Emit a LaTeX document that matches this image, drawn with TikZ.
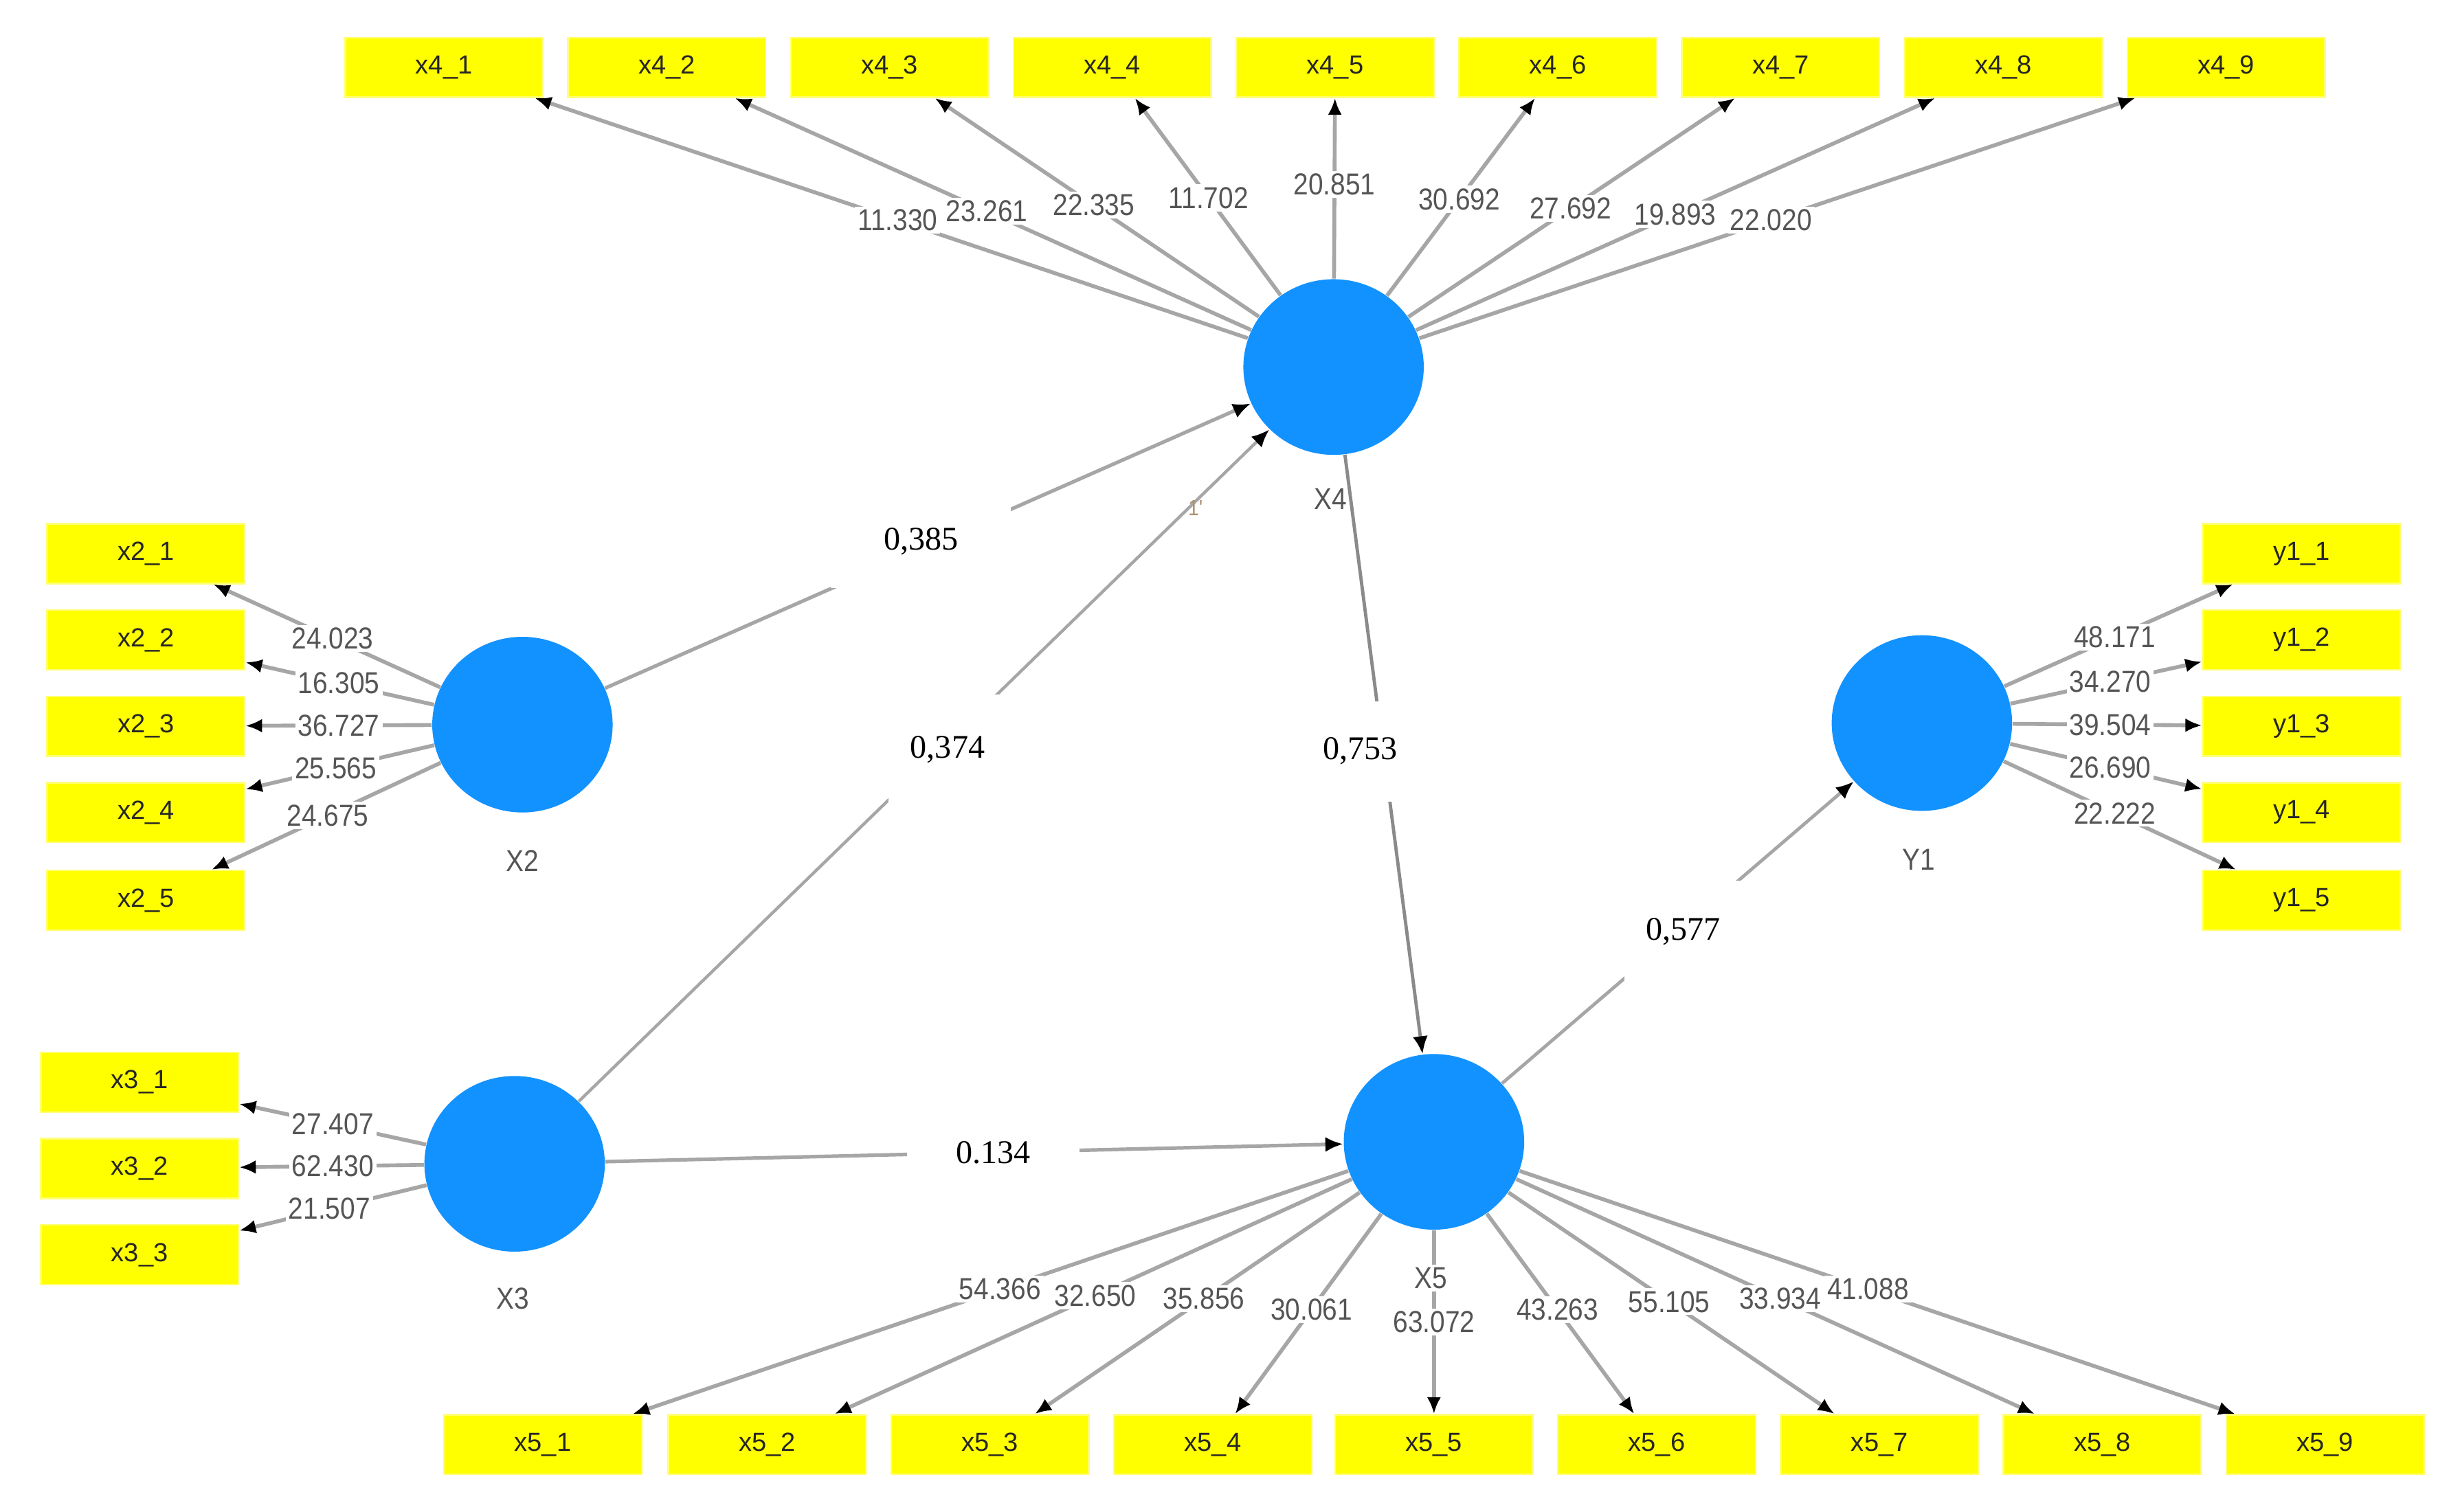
\documentclass[tikz,border=0pt]{standalone}
\usepackage{fontspec}
\setmainfont{Liberation Sans}
\newfontfamily\serifnum{Liberation Serif}
\newfontfamily\narrowsans[FakeStretch=0.88]{Liberation Sans}
\usetikzlibrary{shapes.geometric,arrows.meta,calc}
\definecolor{ylw}{HTML}{FFFF00}
\definecolor{blu}{HTML}{1292FF}
\definecolor{linegray}{HTML}{A6A6A6}
\definecolor{darkline}{HTML}{8A8A8A}
\definecolor{txtgray}{HTML}{555555}
\definecolor{artif}{HTML}{B09070}
\begin{document}
\begin{tikzpicture}[x=0.02cm,y=-0.02cm,
  ind/.style={rectangle, fill=ylw, draw=ylw!55!white, line width=0.6pt, minimum width=2.52cm, minimum height=0.76cm, inner sep=0pt, font=\fontsize{9.5}{10}\selectfont, text=black!85},
  lat/.style={ellipse, fill=blu, minimum width=2.3cm, minimum height=2.24cm, inner sep=0pt},
  latlab/.style={fill=white, inner sep=1pt, font=\narrowsans\fontsize{11}{12}\selectfont, text=txtgray},
  load/.style={draw=linegray, line width=1.4pt, -{Latex[color=black,length=6pt,width=5pt]}},
  lval/.style={fill=white, inner sep=1pt, font=\narrowsans\fontsize{11}{12}\selectfont, text=txtgray},
  pathln/.style={draw=linegray, line width=1.3pt, -{Latex[color=black,length=6.5pt,width=5.5pt]}},
  pval/.style={fill=white, inner sep=0pt, font=\serifnum\fontsize{12}{14}\selectfont, text=black},
]
\fill[white] (0,0) rectangle (1568,964);
\useasboundingbox (0,0) rectangle (1568,964);

% latent variables
\node[lat] (X4) at (850,234) {};
\node[lat] (X2) at (333,462) {};
\node[lat] (X3) at (328,742) {};
\node[lat] (X5) at (914,728) {};
\node[lat] (Y1) at (1225,461) {};

% indicators
\foreach \i/\x in {1/283,2/425,3/567,4/709,5/851,6/993,7/1135,8/1277,9/1419}
  \node[ind] (x4\i) at (\x,43) {x4\_\i};
\foreach \i/\y in {1/353,2/408,3/463,4/518,5/574}
  \node[ind] (x2\i) at (93,\y) {x2\_\i};
\foreach \i/\y in {1/690,2/745,3/800}
  \node[ind] (x3\i) at (89,\y) {x3\_\i};
\foreach \i/\y in {1/353,2/408,3/463,4/518,5/574}
  \node[ind] (y1\i) at (1467,\y) {y1\_\i};
\foreach \i/\x in {1/346,2/489,3/631,4/773,5/914,6/1056,7/1198,8/1340,9/1482}
  \node[ind] (x5\i) at (\x,921) {x5\_\i};

% latent labels (drawn below the structural lines)
\node[latlab] (lX2) at (333,549) {X2};
\node[latlab] (lX3) at (327,828) {X3};
\node[latlab] (lY1) at (1223,548) {Y1};
\node[latlab, fill=none] (lX4) at (848,318) {X4};

% loading arrows
\foreach \i in {1,...,9} \draw[load] (X4) -- (x4\i);
\foreach \i in {1,...,5} \draw[load] (X2) -- (x2\i);
\foreach \i in {1,...,3} \draw[load] (X3) -- (x3\i);
\foreach \i in {1,...,5} \draw[load] (Y1) -- (y1\i);
\foreach \i in {1,...,9} \draw[load] (X5) -- (x5\i);

% structural paths
\draw[pathln] (X2) -- (X4);
\draw[pathln, line width=1.1pt] (X3) -- (X4);
\draw[pathln, draw=darkline, line width=1.2pt] (X4) -- (X5);
\draw[pathln] (X3) -- (X5);
\draw[pathln, line width=1.2pt] (X5) -- (Y1);

% loading values
\foreach \i/\t/\v in {1/0.49/11.330,2/0.52/23.261,3/0.54/22.335,4/0.565/11.702,5/0.61/20.851,6/0.56/30.692,7/0.53/27.692,8/0.51/19.893,9/0.49/22.020}
  \node[lval] (v4\i) at ($(X4)!\t!(x4\i)$) {\v};
\foreach \i/\t/\v in {1/0.504/24.023,2/0.4875/16.305,3/0.4875/36.727,4/0.496/25.565,5/0.517/24.675}
  \node[lval] (v2\i) at ($(X2)!\t!(x2\i)$) {\v};
\foreach \i/\t/\v in {1/0.485/27.407,2/0.485/62.430,3/0.494/21.507}
  \node[lval] (v3\i) at ($(X3)!\t!(x3\i)$) {\v};
\foreach \i/\t/\v in {1/0.508/48.171,2/0.496/34.270,3/0.496/39.504,4/0.496/26.690,5/0.508/22.222}
  \node[lval] (vy\i) at ($(Y1)!\t!(y1\i)$) {\v};
\foreach \i/\t/\v in {1/0.487/54.366,2/0.508/32.650,3/0.518/35.856,4/0.554/30.061,5/0.596/63.072,6/0.554/43.263,7/0.528/55.105,8/0.518/33.934,9/0.487/41.088}
  \node[lval] (v5\i) at ($(X5)!\t!(x5\i)$) {\v};
\node[latlab] (lX5) at (912,815) {X5};

% path coefficients
\node[pval, minimum width=2.3cm, minimum height=1.2cm] (p24) at (587,345) {0,385};
\node[pval, minimum width=1.5cm, minimum height=1.4cm] (p34) at (604,478) {0,374};
\node[pval, minimum width=1.1cm, minimum height=1.28cm] (p45) at (867,479) {0,753};
\node[pval, minimum width=2.2cm, minimum height=0.8cm] (p35) at (633,735) {0.134};
\node[pval, minimum width=1.5cm, minimum height=1.3cm] (p5y) at (1073,594) {0,577};

\node[font=\narrowsans\fontsize{8}{9}\selectfont, text=artif, inner sep=0pt] (art) at (762,324) {1'};
\end{tikzpicture}
\end{document}
